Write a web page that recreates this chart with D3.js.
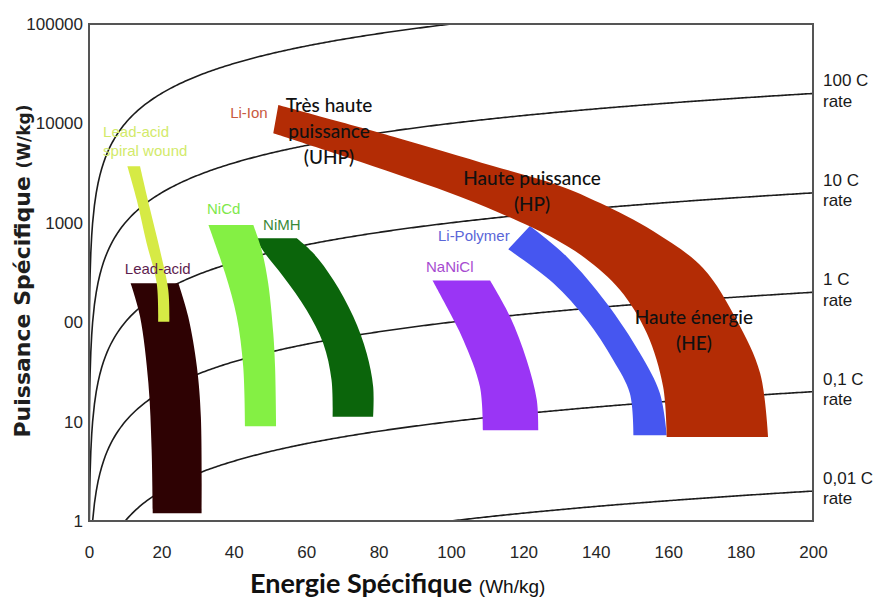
<!DOCTYPE html>
<meta charset="utf-8">
<script src="https://d3js.org/d3.v7.min.js"></script>
<style>
  body { margin: 0; background: #fff; }
</style>
<div id="viz"></div>
<script>
// C-rate lines: P (W/kg) = rate * E (Wh/kg)
const rates = [1000, 100, 10, 1, 0.1, 0.01];
const rateLabels = ["", "100 C", "10 C", "1 C", "0,1 C", "0,01 C"];

// axis ticks
const xTicks = [0, 20, 40, 60, 80, 100, 120, 140, 160, 180, 200];
const yTicks = [1, 10, 100, 1000, 10000, 100000];
const yTickLabels = ["1", "10", "00", "1000", "10000", "100000"];

// zone outlines, [Wh/kg, W/kg]: one edge going down, then the other edge going up
const leadAcid = [
  [[24.7,246],[27.4,114],[29.8,35.7],[30.9,11.2],[31.1,1.2]],
  [[17.6,1.2],[17.3,5.2],[16.4,24.4],[14.1,114],[11.5,246]]];
const leadAcidSpiral = [
  [[10.6,3700],[13.2,1700],[15.9,626],[18.7,248],[19.1,101]],
  [[22.2,101],[21.9,211],[19.6,532],[16.7,1450],[14.1,3700]]];
const niMH = [
  [[57.4,698],[62.0,493],[67.5,266],[73.0,114],[76.7,48.7],[78.5,22.4],[78.5,11.2]],
  [[67.3,11.2],[67.0,26.2],[64.7,61.3],[60.1,133],[53.7,287],[48.6,493],[45.9,698]]];
const niCd = [
  [[45.4,950],[47.7,532],[49.5,246],[50.9,77.3],[51.4,35.7],[51.7,9.0]],
  [[43.1,9.0],[42.6,35.7],[40.8,114],[37.6,310],[33.0,950]]];
const naNiCl = [
  [[110.8,262],[116.3,114],[120.9,41.7],[123.7,16.5],[124.1,8.2]],
  [[108.8,8.2],[108.0,22.4],[103.4,66.2],[98.8,143],[94.9,262]]];
const liPolymer = [
  [[121.8,929],[132.0,456],[143.0,155],[152.2,48.7],[157.7,19.3],[159.6,7.3]],
  [[150.4,7.3],[149.4,19.3],[144.8,41.7],[137.5,105],[128.3,246],[115.8,541]]];
const liIon = [
  [[52.3,15300],[84.1,7350],[111.6,3730],[130.1,2350],[141.2,1580],[155.8,827],[169.6,351],[178.9,105],[185.4,30.6],[187.6,7.0]],
  [[159.6,7.0],[158.6,22.4],[154.1,77.3],[146.7,211],[137.0,443],[128.2,703],[119.1,1019],[102.5,1832],[74.9,4120],[50.9,7950]]];

const techs = ["Lead-acid", "Lead-acid spiral wound", "NiMH", "NiCd", "NaNiCl", "Li-Polymer", "Li-Ion"];
const zones = [leadAcid, leadAcidSpiral, niMH, niCd, naNiCl, liPolymer, liIon];

// zone colours and label look (same order as techs)
const zoneColors = ["#2e0203", "#d6ea45", "#0b650b", "#84f044", "#9a35f5", "#4656f0", "#b32c05"];
const labelColors = ["#5e1e4e", "#d2ea6a", "#3a8a3a", "#7ee84a", "#a64bd0", "#5a66d8", "#c8593e"];
const labelAnchor = [[9.9,343], [3.9,8190], [48.1,950], [32.6,1377], [93.1,359], [96.4,737], [39.0,12730]];
const labelLines = [["Lead-acid"], ["Lead-acid", "spiral wound"], ["NiMH"], ["NiCd"], ["NaNiCl"], ["Li-Polymer"], ["Li-Ion"]];

// class annotations
const classLines = [["Très haute", "puissance", "(UHP)"], ["Haute puissance", "(HP)"], ["Haute énergie", "(HE)"]];
const classAnchor = [[66.3,15310], [122.4,2824], [167.1,113]];

const W = 873, H = 600;
const svg = d3.select("#viz").append("svg")
    .attr("width", W)
    .attr("height", H)
    .style("font-family", "'Liberation Sans', Arial, sans-serif");

const x = d3.scaleLinear().domain([0, 200]).range([89, 813]);
const y = d3.scaleLog().domain([1, 100000]).range([521, 24]);

svg.append("clipPath").attr("id", "plot")
  .append("rect")
    .attr("x", x(0)).attr("y", y(100000))
    .attr("width", x(200) - x(0)).attr("height", y(1) - y(100000));

const plot = svg.append("g").attr("clip-path", "url(#plot)");

// C-rate curves
const eSteps = [0.0005, 0.001, 0.002, 0.005, 0.01, 0.02, 0.05, 0.1, 0.2, 0.3, 0.5, 0.75].concat(d3.range(1, 200.5, 0.5));
const rateLine = d3.line().x(d => x(d[0])).y(d => y(d[1]));
plot.selectAll(".rate")
  .data(rates)
  .enter().append("path")
    .attr("class", "rate")
    .attr("fill", "none")
    .attr("stroke", "#1c1c1c")
    .attr("stroke-width", 1.6)
    .attr("d", r => rateLine(eSteps.map(e => [e, r * e]).filter(d => d[1] > 0.3 && d[1] < 300000)));

// zones: curved side edges, straight top and bottom
const edge = d3.line().x(d => x(d[0])).y(d => y(d[1])).curve(d3.curveCatmullRom.alpha(0.5));
function zonePath(z) {
  return edge(z[0]) + edge(z[1]).replace(/^M/, "L") + "Z";
}
plot.selectAll(".zone")
  .data(zones)
  .enter().append("path")
    .attr("class", "zone")
    .attr("fill", (d, i) => zoneColors[i])
    .attr("d", zonePath);

// zone labels
const lab = svg.selectAll(".lab")
  .data(techs)
  .enter().append("text")
    .attr("class", "lab")
    .attr("x", (d, i) => x(labelAnchor[i][0]))
    .attr("y", (d, i) => y(labelAnchor[i][1]))
    .attr("dy", "0.35em")
    .attr("fill", (d, i) => labelColors[i])
    .style("font-size", "15px");
lab.each(function(d, i) {
  d3.select(this).selectAll("tspan")
    .data(labelLines[i])
    .enter().append("tspan")
      .attr("x", x(labelAnchor[i][0]))
      .attr("dy", (t, j) => j ? "1.25em" : null)
      .text(t => t);
});

// class annotations
const ann = svg.selectAll(".ann")
  .data(classLines)
  .enter().append("text")
    .attr("class", "ann")
    .attr("text-anchor", "middle")
    .attr("x", (d, i) => x(classAnchor[i][0]))
    .attr("y", (d, i) => y(classAnchor[i][1]))
    .attr("dy", "0.35em")
    .attr("fill", "#111")
    .style("font-family", "Lato, sans-serif")
    .style("font-weight", 500)
    .style("font-size", "19px");
ann.each(function(d, i) {
  d3.select(this).selectAll("tspan")
    .data(d)
    .enter().append("tspan")
      .attr("x", x(classAnchor[i][0]))
      .attr("dy", (t, j) => j ? "1.37em" : null)
      .text(t => t);
});

// axes
const xAxis = svg.append("g")
    .attr("transform", "translate(0," + y(1) + ")")
    .call(d3.axisBottom(x).tickValues(xTicks).tickSize(0).tickPadding(25));
const yAxis = svg.append("g")
    .attr("transform", "translate(" + x(0) + ",0)")
    .call(d3.axisLeft(y).tickValues(yTicks).tickFormat((d, i) => yTickLabels[i]).tickSize(0).tickPadding(6));
[xAxis, yAxis].forEach(a => {
  a.select(".domain").remove();
  a.selectAll("text")
    .style("font-family", "'Liberation Sans', Arial, sans-serif")
    .style("font-size", "17px")
    .attr("fill", "#262626");
});

// rate labels on the right
const rl = svg.selectAll(".rl")
  .data(rates.slice(1))
  .enter().append("text")
    .attr("class", "rl")
    .attr("x", x(200) + 10)
    .attr("y", r => y(r * 200) - 13)
    .attr("dy", "0.35em")
    .attr("fill", "#1a1a1a")
    .style("font-size", "17px");
rl.append("tspan").text((r, i) => rateLabels[i + 1]);
rl.append("tspan").attr("x", x(200) + 10).attr("dy", "1.2em").text("rate");

// frame
svg.append("rect")
    .attr("x", x(0)).attr("y", y(100000))
    .attr("width", x(200) - x(0)).attr("height", y(1) - y(100000))
    .attr("fill", "none")
    .attr("stroke", "#555")
    .attr("stroke-width", 2);

// axis titles
svg.append("text")
    .attr("transform", "translate(30,271) rotate(-90)")
    .attr("text-anchor", "middle")
    .attr("fill", "#1e1e1e")
    .style("font-family", "'DejaVu Sans', sans-serif")
    .style("font-weight", "bold")
    .style("font-size", "22px")
    .call(t => {
      t.append("tspan").text("Puissance Spécifique ");
      t.append("tspan").style("font-size", "17px").text("(W/kg)");
    });

svg.append("text")
    .attr("x", 250)
    .attr("y", 593)
    .attr("fill", "#111")
    .call(t => {
      t.append("tspan")
        .style("font-family", "Lato, sans-serif")
        .style("font-weight", "bold")
        .style("font-size", "27px")
        .text("Energie Spécifique ");
      t.append("tspan")
        .style("font-size", "19px")
        .text("(Wh/kg)");
    });
</script>
